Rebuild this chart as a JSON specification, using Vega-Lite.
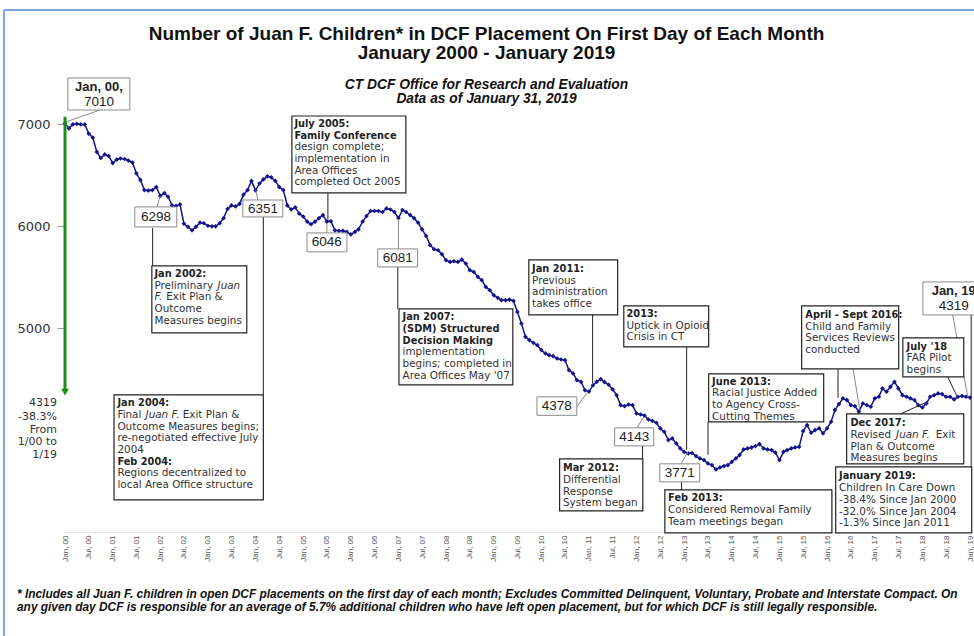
{
"$schema": "https://vega.github.io/schema/vega-lite/v6.json",
"width": 905,
"height": 428,
"autosize": {"type": "none"},
"padding": {"left": 65, "top": 104, "right": 4, "bottom": 104},
"background": "white",
"config": {"view": {"stroke": null}, "axis": {"grid": false}},
"title": {
  "text": ["Number of Juan F. Children* in DCF Placement On First Day of Each Month", "January 2000 - January 2019"],
  "subtitle": ["CT DCF Office for Research and Evaluation", "Data as of January 31, 2019"],
  "frame": "group",
  "anchor": "middle", "dx": -31, "dy": 100, "offset": 3,
  "font": "Liberation Sans", "fontSize": 19, "fontWeight": "bold", "lineHeight": 19, "color": "#111",
  "subtitleFont": "Liberation Sans", "subtitleFontSize": 13.8, "subtitleFontWeight": "bold", "subtitleFontStyle": "italic", "subtitleLineHeight": 14.5, "subtitlePadding": 15, "subtitleColor": "#111"
},
"datasets": {
  "series": [
    {"month":"2000-01","count":7010},{"month":"2000-02","count":6960},{"month":"2000-03","count":7000},{"month":"2000-04","count":7005},{"month":"2000-05","count":7000},{"month":"2000-06","count":7000},{"month":"2000-07","count":6910},{"month":"2000-08","count":6870},{"month":"2000-09","count":6730},{"month":"2000-10","count":6670},{"month":"2000-11","count":6705},{"month":"2000-12","count":6690},
    {"month":"2001-01","count":6620},{"month":"2001-02","count":6655},{"month":"2001-03","count":6665},{"month":"2001-04","count":6660},{"month":"2001-05","count":6645},{"month":"2001-06","count":6625},{"month":"2001-07","count":6520},{"month":"2001-08","count":6455},{"month":"2001-09","count":6355},{"month":"2001-10","count":6350},{"month":"2001-11","count":6355},{"month":"2001-12","count":6385},
    {"month":"2002-01","count":6298},{"month":"2002-02","count":6325},{"month":"2002-03","count":6290},{"month":"2002-04","count":6205},{"month":"2002-05","count":6200},{"month":"2002-06","count":6215},{"month":"2002-07","count":6025},{"month":"2002-08","count":5995},{"month":"2002-09","count":5960},{"month":"2002-10","count":5995},{"month":"2002-11","count":6035},{"month":"2002-12","count":6030},
    {"month":"2003-01","count":6005},{"month":"2003-02","count":6000},{"month":"2003-03","count":6000},{"month":"2003-04","count":6030},{"month":"2003-05","count":6080},{"month":"2003-06","count":6170},{"month":"2003-07","count":6205},{"month":"2003-08","count":6195},{"month":"2003-09","count":6220},{"month":"2003-10","count":6310},{"month":"2003-11","count":6355},{"month":"2003-12","count":6445},
    {"month":"2004-01","count":6351},{"month":"2004-02","count":6420},{"month":"2004-03","count":6460},{"month":"2004-04","count":6490},{"month":"2004-05","count":6480},{"month":"2004-06","count":6445},{"month":"2004-07","count":6385},{"month":"2004-08","count":6355},{"month":"2004-09","count":6205},{"month":"2004-10","count":6165},{"month":"2004-11","count":6185},{"month":"2004-12","count":6125},
    {"month":"2005-01","count":6095},{"month":"2005-02","count":6045},{"month":"2005-03","count":6020},{"month":"2005-04","count":6045},{"month":"2005-05","count":6080},{"month":"2005-06","count":6110},{"month":"2005-07","count":6046},{"month":"2005-08","count":6050},{"month":"2005-09","count":5960},{"month":"2005-10","count":5955},{"month":"2005-11","count":5955},{"month":"2005-12","count":5945},
    {"month":"2006-01","count":5920},{"month":"2006-02","count":5945},{"month":"2006-03","count":5970},{"month":"2006-04","count":6045},{"month":"2006-05","count":6100},{"month":"2006-06","count":6150},{"month":"2006-07","count":6150},{"month":"2006-08","count":6150},{"month":"2006-09","count":6140},{"month":"2006-10","count":6175},{"month":"2006-11","count":6165},{"month":"2006-12","count":6140},
    {"month":"2007-01","count":6081},{"month":"2007-02","count":6160},{"month":"2007-03","count":6140},{"month":"2007-04","count":6110},{"month":"2007-05","count":6080},{"month":"2007-06","count":6035},{"month":"2007-07","count":5970},{"month":"2007-08","count":5905},{"month":"2007-09","count":5815},{"month":"2007-10","count":5775},{"month":"2007-11","count":5765},{"month":"2007-12","count":5725},
    {"month":"2008-01","count":5667},{"month":"2008-02","count":5650},{"month":"2008-03","count":5657},{"month":"2008-04","count":5650},{"month":"2008-05","count":5673},{"month":"2008-06","count":5634},{"month":"2008-07","count":5569},{"month":"2008-08","count":5552},{"month":"2008-09","count":5503},{"month":"2008-10","count":5471},{"month":"2008-11","count":5405},{"month":"2008-12","count":5373},
    {"month":"2009-01","count":5324},{"month":"2009-02","count":5298},{"month":"2009-03","count":5275},{"month":"2009-04","count":5275},{"month":"2009-05","count":5281},{"month":"2009-06","count":5268},{"month":"2009-07","count":5160},{"month":"2009-08","count":5046},{"month":"2009-09","count":4915},{"month":"2009-10","count":4883},{"month":"2009-11","count":4856},{"month":"2009-12","count":4833},
    {"month":"2010-01","count":4785},{"month":"2010-02","count":4752},{"month":"2010-03","count":4735},{"month":"2010-04","count":4726},{"month":"2010-05","count":4703},{"month":"2010-06","count":4693},{"month":"2010-07","count":4686},{"month":"2010-08","count":4588},{"month":"2010-09","count":4556},{"month":"2010-10","count":4490},{"month":"2010-11","count":4474},{"month":"2010-12","count":4392},
    {"month":"2011-01","count":4378},{"month":"2011-02","count":4441},{"month":"2011-03","count":4474},{"month":"2011-04","count":4500},{"month":"2011-05","count":4470},{"month":"2011-06","count":4445},{"month":"2011-07","count":4400},{"month":"2011-08","count":4343},{"month":"2011-09","count":4245},{"month":"2011-10","count":4235},{"month":"2011-11","count":4251},{"month":"2011-12","count":4245},
    {"month":"2012-01","count":4163},{"month":"2012-02","count":4153},{"month":"2012-03","count":4143},{"month":"2012-04","count":4104},{"month":"2012-05","count":4091},{"month":"2012-06","count":4072},{"month":"2012-07","count":4016},{"month":"2012-08","count":3983},{"month":"2012-09","count":3902},{"month":"2012-10","count":3918},{"month":"2012-11","count":3869},{"month":"2012-12","count":3820},
    {"month":"2013-01","count":3785},{"month":"2013-02","count":3771},{"month":"2013-03","count":3775},{"month":"2013-04","count":3745},{"month":"2013-05","count":3722},{"month":"2013-06","count":3706},{"month":"2013-07","count":3673},{"month":"2013-08","count":3657},{"month":"2013-09","count":3614},{"month":"2013-10","count":3634},{"month":"2013-11","count":3647},{"month":"2013-12","count":3657},
    {"month":"2014-01","count":3689},{"month":"2014-02","count":3722},{"month":"2014-03","count":3755},{"month":"2014-04","count":3810},{"month":"2014-05","count":3820},{"month":"2014-06","count":3830},{"month":"2014-07","count":3843},{"month":"2014-08","count":3863},{"month":"2014-09","count":3820},{"month":"2014-10","count":3810},{"month":"2014-11","count":3804},{"month":"2014-12","count":3778},
    {"month":"2015-01","count":3706},{"month":"2015-02","count":3787},{"month":"2015-03","count":3804},{"month":"2015-04","count":3820},{"month":"2015-05","count":3830},{"month":"2015-06","count":3836},{"month":"2015-07","count":3990},{"month":"2015-08","count":4049},{"month":"2015-09","count":3974},{"month":"2015-10","count":4000},{"month":"2015-11","count":4017},{"month":"2015-12","count":3968},
    {"month":"2016-01","count":4017},{"month":"2016-02","count":4082},{"month":"2016-03","count":4196},{"month":"2016-04","count":4255},{"month":"2016-05","count":4311},{"month":"2016-06","count":4295},{"month":"2016-07","count":4245},{"month":"2016-08","count":4236},{"month":"2016-09","count":4180},{"month":"2016-10","count":4262},{"month":"2016-11","count":4245},{"month":"2016-12","count":4229},
    {"month":"2017-01","count":4311},{"month":"2017-02","count":4327},{"month":"2017-03","count":4409},{"month":"2017-04","count":4376},{"month":"2017-05","count":4425},{"month":"2017-06","count":4474},{"month":"2017-07","count":4409},{"month":"2017-08","count":4343},{"month":"2017-09","count":4327},{"month":"2017-10","count":4311},{"month":"2017-11","count":4295},{"month":"2017-12","count":4245},
    {"month":"2018-01","count":4222},{"month":"2018-02","count":4262},{"month":"2018-03","count":4327},{"month":"2018-04","count":4343},{"month":"2018-05","count":4360},{"month":"2018-06","count":4353},{"month":"2018-07","count":4327},{"month":"2018-08","count":4327},{"month":"2018-09","count":4301},{"month":"2018-10","count":4327},{"month":"2018-11","count":4334},{"month":"2018-12","count":4327},
    {"month":"2019-01","count":4319}
  ],
  "frame": [
    {"x":"1998-09-20","x2":"2019-12-01","y":8122,"y2":8122},
    {"x":"1998-09-20","x2":"1998-09-20","y":8122,"y2":1900}
  ],
  "leadGray": [
    {"x":"2000-09-25","x2":"2000-01-08","y":7141,"y2":7024},
    {"x":"2001-12-06","x2":"2002-01-01","y":6190,"y2":6298},
    {"x":"2004-01-19","x2":"2004-01-04","y":6258,"y2":6356},
    {"x":"2005-07-01","x2":"2005-07-01","y":5935,"y2":6033},
    {"x":"2007-01-01","x2":"2007-01-01","y":5778,"y2":6072},
    {"x":"2010-09-30","x2":"2010-12-23","y":4228,"y2":4375},
    {"x":"2012-01-03","x2":"2012-02-26","y":4022,"y2":4130},
    {"x":"2012-12-06","x2":"2013-01-29","y":3669,"y2":3786},
    {"x":"2018-08-21","x2":"2018-12-15","y":5130,"y2":4326},
    {"x":"2016-07-18","x2":"2016-09-08","y":4601,"y2":4198}
  ],
  "leadDark": [
    {"x":"2005-07-09","x2":"2005-07-09","y":6327,"y2":6043},
    {"x":"2001-11-03","x2":"2001-11-03","y":5984,"y2":5611},
    {"x":"2004-03-01","x2":"2004-03-01","y":6092,"y2":4345},
    {"x":"2006-12-27","x2":"2006-12-27","y":5601,"y2":5189},
    {"x":"2011-01-29","x2":"2011-01-29","y":5130,"y2":4463},
    {"x":"2013-01-19","x2":"2013-01-19","y":4816,"y2":3806},
    {"x":"2013-07-02","x2":"2013-07-02","y":4080,"y2":3757},
    {"x":"2012-02-16","x2":"2012-02-16","y":3845,"y2":3718},
    {"x":"2012-12-11","x2":"2012-12-11","y":3492,"y2":3413},
    {"x":"2016-03-25","x2":"2016-03-25","y":4601,"y2":4316},
    {"x":"2018-07-14","x2":"2018-09-22","y":4522,"y2":4336},
    {"x":"2017-07-18","x2":"2018-01-19","y":4159,"y2":4267},
    {"x":"2019-01-10","x2":"2019-01-10","y":5130,"y2":3639}
  ],
  "numBoxes": [
    {"x":"2000-01-23","x2":"2001-05-12","y":7455,"y2":7141},
    {"x":"2001-06-19","x2":"2002-05-07","y":6190,"y2":5994},
    {"x":"2003-09-26","x2":"2004-07-28","y":6258,"y2":6092},
    {"x":"2005-01-30","x2":"2005-12-02","y":5935,"y2":5749},
    {"x":"2006-07-26","x2":"2007-05-28","y":5778,"y2":5601},
    {"x":"2009-11-28","x2":"2010-09-30","y":4326,"y2":4145},
    {"x":"2011-07-17","x2":"2012-05-12","y":4022,"y2":3845},
    {"x":"2012-06-27","x2":"2013-04-29","y":3669,"y2":3492},
    {"x":"2018-01-05","x2":"2019-04-01","y":5454,"y2":5130}
  ],
  "noteBoxes": [
    {"x":"2004-10-06","x2":"2007-02-27","y":7082,"y2":6327},
    {"x":"2001-10-28","x2":"2003-10-26","y":5611,"y2":4954},
    {"x":"2001-01-11","x2":"2004-03-01","y":4345,"y2":3315},
    {"x":"2007-01-05","x2":"2009-05-27","y":5189,"y2":4443},
    {"x":"2009-09-27","x2":"2011-08-09","y":5670,"y2":5130},
    {"x":"2011-09-25","x2":"2013-07-07","y":5219,"y2":4816},
    {"x":"2013-07-07","x2":"2015-12-06","y":4551,"y2":4080},
    {"x":"2010-05-21","x2":"2012-02-18","y":3718,"y2":3208},
    {"x":"2012-08-05","x2":"2016-02-07","y":3413,"y2":2992},
    {"x":"2015-06-20","x2":"2017-07-03","y":5219,"y2":4601},
    {"x":"2017-08-04","x2":"2018-11-14","y":4905,"y2":4522},
    {"x":"2016-05-30","x2":"2018-11-14","y":4159,"y2":3669},
    {"x":"2016-03-07","x2":"2019-01-14","y":3639,"y2":2992}
  ],
  "numText": [
    {"x":"2001-11-28","y":6092,"t":"6298"},
    {"x":"2004-02-27","y":6170,"t":"6351"},
    {"x":"2005-07-01","y":5846,"t":"6046"},
    {"x":"2006-12-27","y":5689,"t":"6081"},
    {"x":"2010-04-29","y":4238,"t":"4378"},
    {"x":"2011-12-14","y":3933,"t":"4143"},
    {"x":"2012-11-28","y":3580,"t":"3771"},
    {"x":"2000-09-17","y":7215,"t":"7010"},
    {"x":"2018-08-29","y":5214,"t":"4319"}
  ],
  "numBold": [
    {"x":"2000-09-17","y":7362,"t":"Jan, 00,"},
    {"x":"2018-08-29","y":5361,"t":"Jan, 19"}
  ],
  "noteBold": [
    {"x":"2004-10-25","y":7004,"t":"July 2005:"},
    {"x":"2004-10-25","y":6889,"t":"Family Conference"},
    {"x":"2001-11-17","y":5532,"t":"Jan 2002:"},
    {"x":"2001-02-06","y":4264,"t":"Jan 2004:"},
    {"x":"2001-02-06","y":3691,"t":"Feb 2004:"},
    {"x":"2007-02-02","y":5108,"t":"Jan 2007:"},
    {"x":"2007-02-02","y":4993,"t":"(SDM) Structured"},
    {"x":"2007-02-02","y":4878,"t":"Decision Making"},
    {"x":"2009-10-22","y":5581,"t":"Jan 2011:"},
    {"x":"2011-10-16","y":5140,"t":"2013:"},
    {"x":"2013-08-02","y":4476,"t":"June 2013:"},
    {"x":"2010-06-16","y":3626,"t":"Mar 2012:"},
    {"x":"2012-08-30","y":3332,"t":"Feb 2013:"},
    {"x":"2015-07-18","y":5130,"t":"April - Sept 2016:"},
    {"x":"2017-09-02","y":4819,"t":"July '18"},
    {"x":"2016-06-28","y":4068,"t":"Dec 2017:"},
    {"x":"2016-04-02","y":3551,"t":"January 2019:"}
  ],
  "noteText": [
    {"x":"2004-10-25","y":6775,"t":"design complete;"},
    {"x":"2004-10-25","y":6660,"t":"implementation in"},
    {"x":"2004-10-25","y":6546,"t":"Area Offices"},
    {"x":"2004-10-25","y":6432,"t":"completed Oct 2005"},
    {"x":"2001-11-17","y":5418,"t":"Preliminary"},
    {"x":"2002-02-15","y":5304,"t":"Exit Plan &"},
    {"x":"2001-11-17","y":5189,"t":"Outcome"},
    {"x":"2001-11-17","y":5075,"t":"Measures begins"},
    {"x":"2001-02-06","y":4149,"t":"Final"},
    {"x":"2002-06-22","y":4149,"t":"Exit Plan &"},
    {"x":"2001-02-06","y":4034,"t":"Outcome Measures begins;"},
    {"x":"2001-02-06","y":3920,"t":"re-negotiated effective July"},
    {"x":"2001-02-06","y":3805,"t":"2004"},
    {"x":"2001-02-06","y":3577,"t":"Regions decentralized to"},
    {"x":"2001-02-06","y":3462,"t":"local Area Office structure"},
    {"x":"2007-02-02","y":4764,"t":"implementation"},
    {"x":"2007-02-02","y":4650,"t":"begins; completed in"},
    {"x":"2007-02-02","y":4535,"t":"Area Offices May '07"},
    {"x":"2009-10-22","y":5467,"t":"Previous"},
    {"x":"2009-10-22","y":5353,"t":"administration"},
    {"x":"2009-10-22","y":5238,"t":"takes office"},
    {"x":"2011-10-16","y":5025,"t":"Uptick in Opioid"},
    {"x":"2011-10-16","y":4911,"t":"Crisis in CT"},
    {"x":"2013-08-02","y":4362,"t":"Racial Justice Added"},
    {"x":"2013-08-02","y":4247,"t":"to Agency Cross-"},
    {"x":"2013-08-02","y":4132,"t":"Cutting Themes"},
    {"x":"2010-06-16","y":3511,"t":"Differential"},
    {"x":"2010-06-16","y":3397,"t":"Response"},
    {"x":"2010-06-16","y":3283,"t":"System began"},
    {"x":"2012-08-30","y":3217,"t":"Considered Removal Family"},
    {"x":"2012-08-30","y":3103,"t":"Team meetings began"},
    {"x":"2015-07-18","y":5015,"t":"Child and Family"},
    {"x":"2015-07-18","y":4901,"t":"Services Reviews"},
    {"x":"2015-07-18","y":4787,"t":"conducted"},
    {"x":"2017-09-02","y":4705,"t":"FAR Pilot"},
    {"x":"2017-09-02","y":4591,"t":"begins"},
    {"x":"2016-06-28","y":3953,"t":"Revised"},
    {"x":"2018-04-13","y":3953,"t":"Exit"},
    {"x":"2016-06-28","y":3838,"t":"Plan & Outcome"},
    {"x":"2016-06-28","y":3724,"t":"Measures begins"},
    {"x":"2016-04-02","y":3433,"t":"Children In Care Down"},
    {"x":"2016-04-02","y":3316,"t":"-38.4% Since Jan 2000"},
    {"x":"2016-04-02","y":3198,"t":"-32.0% Since Jan 2004"},
    {"x":"2016-04-02","y":3085,"t":"-1.3% Since Jan 2011"}
  ],
  "noteItalic": [
    {"x":"2003-03-16","y":5418,"t":"Juan"},
    {"x":"2001-11-17","y":5304,"t":"F."},
    {"x":"2001-09-10","y":4149,"t":"Juan F."},
    {"x":"2017-06-13","y":3953,"t":"Juan F."}
  ],
  "leftText": [
    {"x":"1999-11-01","y":4267,"t":"4319"},
    {"x":"1999-11-01","y":4130,"t":"-38.3%"},
    {"x":"1999-11-01","y":4002,"t":"From"},
    {"x":"1999-11-01","y":3880,"t":"1/00 to"},
    {"x":"1999-11-01","y":3758,"t":"1/19"}
  ],
  "footnote": [
    {"x":"1998-12-29","y":2393,"t":"* Includes all Juan F. children in open DCF placements on the first day of each month; Excludes Committed Delinquent, Voluntary, Probate and Interstate Compact.  On"},
    {"x":"1998-12-29","y":2266,"t":"any given day DCF is responsible for an average of 5.7% additional children who have left open placement, but for which DCF is still legally responsible."}
  ],
  "arrow": [
    {"x":"2000-01-01","y":7075,"y2":4400}
  ],
  "arrowHead": [
    {"x":"2000-01-01","y":4372}
  ]
},
"layer": [
  {
    "data": {"name": "series"},
    "mark": {"type": "line", "color": "#14148c", "strokeWidth": 1.5, "point": {"shape": "diamond", "size": 22, "filled": true, "color": "#14148c"}},
    "encoding": {
      "x": {"field": "month", "type": "temporal", "title": null,
        "scale": {"type": "utc", "domain": [{"year": 2000, "month": 1, "date": 1, "utc": true}, {"year": 2019, "month": 1, "date": 1, "utc": true}]},
        "axis": {"title": null, "format": "%b, %y", "tickCount": {"interval": "month", "step": 6}, "labelAngle": -90, "labelFontSize": 8, "labelFont": "Liberation Sans", "labelColor": "#555", "ticks": false, "domainColor": "#c8c8c8", "domainDash": [2, 2], "labelPadding": 3, "labelOverlap": false, "labelFlush": false}},
      "y": {"field": "count", "type": "quantitative", "title": null,
        "scale": {"domain": [3000, 7200], "nice": false, "zero": false},
        "axis": {"title": null, "values": [5000, 6000, 7000], "format": "d", "labelFont": "DejaVu Sans", "labelFontSize": 13, "labelColor": "#333", "tickSize": 8, "tickColor": "#999", "domain": false, "labelPadding": 7, "grid": false}}
    }
  },
  {
    "data": {"name": "frame"},
    "mark": {"type": "rule", "color": "#7aa7d8", "strokeWidth": 2},
    "encoding": {"x": {"field": "x", "type": "temporal", "title": null}, "x2": {"field": "x2"}, "y": {"field": "y", "type": "quantitative", "title": null}, "y2": {"field": "y2"}}
  },
  {
    "data": {"name": "leadGray"},
    "mark": {"type": "rule", "color": "#8a8a8a", "strokeWidth": 1},
    "encoding": {"x": {"field": "x", "type": "temporal", "title": null}, "x2": {"field": "x2"}, "y": {"field": "y", "type": "quantitative", "title": null}, "y2": {"field": "y2"}}
  },
  {
    "data": {"name": "leadDark"},
    "mark": {"type": "rule", "color": "#222", "strokeWidth": 1},
    "encoding": {"x": {"field": "x", "type": "temporal", "title": null}, "x2": {"field": "x2"}, "y": {"field": "y", "type": "quantitative", "title": null}, "y2": {"field": "y2"}}
  },
  {
    "data": {"name": "numBoxes"},
    "mark": {"type": "rect", "fill": "white", "stroke": "#8a8a8a", "strokeWidth": 1},
    "encoding": {"x": {"field": "x", "type": "temporal", "title": null}, "x2": {"field": "x2"}, "y": {"field": "y", "type": "quantitative", "title": null}, "y2": {"field": "y2"}}
  },
  {
    "data": {"name": "noteBoxes"},
    "mark": {"type": "rect", "fill": "white", "stroke": "#222", "strokeWidth": 1.2},
    "encoding": {"x": {"field": "x", "type": "temporal", "title": null}, "x2": {"field": "x2"}, "y": {"field": "y", "type": "quantitative", "title": null}, "y2": {"field": "y2"}}
  },
  {
    "data": {"name": "numText"},
    "mark": {"type": "text", "font": "Liberation Sans", "fontSize": 13.5, "color": "#222", "align": "center", "baseline": "middle"},
    "encoding": {"x": {"field": "x", "type": "temporal", "title": null}, "y": {"field": "y", "type": "quantitative", "title": null}, "text": {"field": "t"}}
  },
  {
    "data": {"name": "numBold"},
    "mark": {"type": "text", "font": "Liberation Sans", "fontSize": 13, "fontWeight": "bold", "color": "#222", "align": "center", "baseline": "middle"},
    "encoding": {"x": {"field": "x", "type": "temporal", "title": null}, "y": {"field": "y", "type": "quantitative", "title": null}, "text": {"field": "t"}}
  },
  {
    "data": {"name": "noteBold"},
    "mark": {"type": "text", "font": "DejaVu Sans", "fontSize": 9.8, "fontWeight": "bold", "color": "#222", "align": "left", "baseline": "middle"},
    "encoding": {"x": {"field": "x", "type": "temporal", "title": null}, "y": {"field": "y", "type": "quantitative", "title": null}, "text": {"field": "t"}}
  },
  {
    "data": {"name": "noteText"},
    "mark": {"type": "text", "font": "DejaVu Sans", "fontSize": 10.4, "color": "#333", "align": "left", "baseline": "middle"},
    "encoding": {"x": {"field": "x", "type": "temporal", "title": null}, "y": {"field": "y", "type": "quantitative", "title": null}, "text": {"field": "t"}}
  },
  {
    "data": {"name": "noteItalic"},
    "mark": {"type": "text", "font": "DejaVu Sans", "fontSize": 10.4, "fontStyle": "italic", "color": "#333", "align": "left", "baseline": "middle"},
    "encoding": {"x": {"field": "x", "type": "temporal", "title": null}, "y": {"field": "y", "type": "quantitative", "title": null}, "text": {"field": "t"}}
  },
  {
    "data": {"name": "leftText"},
    "mark": {"type": "text", "font": "DejaVu Sans", "fontSize": 11, "color": "#333", "align": "right", "baseline": "middle"},
    "encoding": {"x": {"field": "x", "type": "temporal", "title": null}, "y": {"field": "y", "type": "quantitative", "title": null}, "text": {"field": "t"}}
  },
  {
    "data": {"name": "footnote"},
    "mark": {"type": "text", "font": "Liberation Sans", "fontSize": 11.9, "fontWeight": "bold", "fontStyle": "italic", "color": "#111", "align": "left", "baseline": "middle"},
    "encoding": {"x": {"field": "x", "type": "temporal", "title": null}, "y": {"field": "y", "type": "quantitative", "title": null}, "text": {"field": "t"}}
  },
  {
    "data": {"name": "arrow"},
    "mark": {"type": "rule", "color": "#1a8f1a", "strokeWidth": 3},
    "encoding": {"x": {"field": "x", "type": "temporal", "title": null}, "y": {"field": "y", "type": "quantitative", "title": null}, "y2": {"field": "y2"}}
  },
  {
    "data": {"name": "arrowHead"},
    "mark": {"type": "point", "shape": "triangle-down", "filled": true, "color": "#1a8f1a", "size": 60, "opacity": 1},
    "encoding": {"x": {"field": "x", "type": "temporal", "title": null}, "y": {"field": "y", "type": "quantitative", "title": null}}
  }
]
}
